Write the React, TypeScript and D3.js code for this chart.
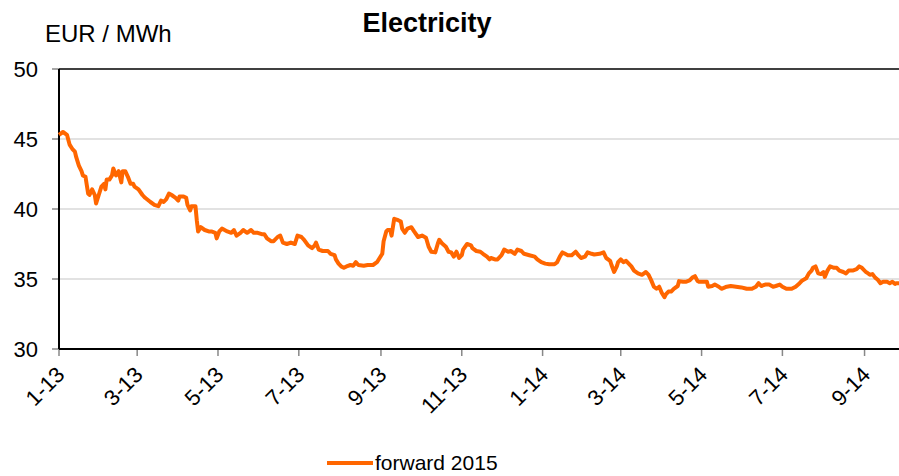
import * as d3 from 'd3';

// days since 2013-01-01 and forward 2015 price (EUR/MWh)
const days = [
  0, 3, 6, 8, 10, 12, 13, 15, 17, 18, 20, 21, 22, 23, 25, 27, 28, 30, 32, 34, 35, 36, 38, 40, 41, 43, 45,
  46, 47, 48, 50, 52, 54, 56, 57, 60, 63, 65, 69, 72, 75, 77, 79, 81, 83, 85, 88, 90, 91, 94, 96, 97, 99,
  100, 103, 104, 105, 107, 110, 113, 115, 118, 119, 121, 123, 127, 130, 132, 134, 137, 139, 142, 145, 147,
  150, 153, 155, 157, 160, 162, 165, 167, 169, 172, 175, 178, 180, 183, 185, 188, 191, 193, 194, 196, 199,
  203, 205, 208, 209, 211, 213, 215, 217, 220, 222, 224, 226, 230, 233, 237, 240, 242, 244, 245, 247, 248,
  250, 251, 252, 253, 256, 258, 259, 261, 263, 266, 268, 271, 274, 277, 279, 281, 284, 286, 287, 289, 292,
  294, 296, 298, 300, 302, 304, 305, 308, 311, 312, 315, 318, 320, 323, 325, 326, 329, 331, 334, 336, 339,
  341, 344, 346, 349, 351, 355, 359, 361, 364, 367, 370, 374, 376, 378, 380, 382, 384, 387, 390, 392, 394,
  397, 399, 402, 404, 408, 411, 413, 416, 417, 419, 421, 422, 424, 426, 428, 430, 432, 434, 437, 440, 443,
  445, 447, 449, 451, 453, 455, 457, 458, 460, 462, 464, 467, 468, 471, 473, 476, 478, 480, 482, 483, 486,
  489, 490, 493, 495, 498, 500, 504, 507, 511, 515, 519, 523, 526, 528, 530, 533, 536, 539, 541, 544, 546,
  549, 553, 556, 559, 561, 564, 566, 568, 569, 571, 573, 575, 577, 578, 580, 582, 585, 587, 589, 592, 594,
  596, 599, 602, 604, 606, 609, 610, 612, 614, 616, 618, 620, 622, 625, 627, 629, 631, 632, 634,
];
const prices = [
  45.3, 45.5, 45.3, 44.6, 44.3, 44.1, 43.7, 43.1, 42.7, 42.4, 42.3, 41.7, 41.1, 41.0, 41.4, 41.0, 40.4,
  41.0, 41.6, 41.8, 41.4, 42.1, 42.1, 42.4, 42.9, 42.4, 42.7, 42.3, 41.9, 42.7, 42.7, 42.3, 41.8, 41.8,
  41.6, 41.4, 41.0, 40.8, 40.5, 40.3, 40.2, 40.6, 40.5, 40.7, 41.1, 41.0, 40.8, 40.6, 40.9, 40.9, 40.8,
  40.3, 39.9, 40.2, 40.2, 39.2, 38.4, 38.7, 38.5, 38.4, 38.4, 38.3, 37.9, 38.4, 38.6, 38.4, 38.3, 38.5,
  38.1, 38.3, 38.5, 38.3, 38.5, 38.3, 38.3, 38.2, 38.2, 37.9, 37.7, 37.7, 38.0, 38.1, 37.6, 37.5, 37.6,
  37.5, 38.1, 38.0, 37.8, 37.4, 37.2, 37.4, 37.6, 37.1, 37.0, 37.0, 36.8, 36.7, 36.4, 36.1, 35.9, 35.8,
  35.9, 36.0, 35.95, 36.2, 36.0, 35.95, 36.0, 36.0, 36.2, 36.5, 36.8, 37.7, 38.4, 38.5, 38.5, 38.1, 38.7,
  39.3, 39.2, 39.1, 38.6, 38.3, 38.6, 38.7, 38.4, 38.0, 38.1, 37.95, 37.3, 36.95, 36.9, 37.55, 37.8,
  37.55, 37.3, 36.95, 36.9, 36.6, 36.95, 36.5, 36.7, 37.1, 37.5, 37.4, 37.2, 37.0, 36.95, 36.8, 36.6,
  36.4, 36.5, 36.4, 36.4, 36.7, 37.1, 36.95, 37.0, 36.8, 37.1, 37.0, 36.8, 36.7, 36.6, 36.4, 36.2, 36.1,
  36.05, 36.05, 36.2, 36.6, 36.9, 36.8, 36.7, 36.7, 36.95, 36.7, 36.5, 36.6, 36.9, 36.8, 36.75, 36.8,
  36.9, 36.5, 36.3, 36.0, 35.5, 35.9, 36.2, 36.4, 36.2, 36.3, 36.1, 35.9, 35.6, 35.4, 35.3, 35.5, 35.3,
  34.9, 34.45, 34.3, 34.45, 34.0, 33.7, 33.9, 34.1, 34.1, 34.3, 34.5, 34.85, 34.8, 34.8, 34.9, 35.1,
  35.2, 34.85, 34.8, 34.8, 34.8, 34.45, 34.5, 34.6, 34.45, 34.3, 34.45, 34.5, 34.45, 34.4, 34.3, 34.3,
  34.45, 34.7, 34.5, 34.6, 34.6, 34.45, 34.5, 34.6, 34.45, 34.3, 34.3, 34.45, 34.7, 34.9, 35.05, 35.4,
  35.6, 35.8, 35.9, 35.4, 35.35, 35.5, 35.15, 35.6, 35.9, 35.8, 35.8, 35.6, 35.5, 35.4, 35.6, 35.6, 35.7,
  35.9, 35.8, 35.5, 35.45, 35.3, 35.35, 35.1, 34.95, 34.7, 34.8, 34.8, 34.7, 34.8, 34.65, 34.7, 34.7,
];
const yTicks = [30, 35, 40, 45, 50];
const xTickLabels = ['1-13', '3-13', '5-13', '7-13', '9-13', '11-13', '1-14', '3-14', '5-14', '7-14', '9-14'];

const W = 899;
const H = 476;
const font = 'Arial, "Liberation Sans", sans-serif';

export default function App() {
  const start = new Date(2013, 0, 1);
  const data = days.map((d, i) => ({ date: d3.timeDay.offset(start, d), v: prices[i] }));

  const left = 59;
  const right = 899;
  const top = 69;
  const bottom = 349;

  const x = d3.scaleTime().domain([start, d3.timeDay.offset(start, 634)]).range([left, right]);
  const y = d3.scaleLinear().domain([30, 50]).range([bottom, top]);

  const tickDates = xTickLabels.map((_, i) => d3.timeMonth.offset(start, i * 2));

  const line = d3
    .line<{ date: Date; v: number }>()
    .x((d) => x(d.date))
    .y((d) => y(d.v));

  return (
    <svg width={W} height={H} style={{ position: 'absolute', left: 0, top: 0, background: '#fff' }}>
      <rect x={0} y={0} width={W} height={H} fill="#fff" />

      {/* gridlines */}
      {yTicks.slice(1, -1).map((t) => (
        <line key={t} x1={left} x2={right} y1={y(t)} y2={y(t)} stroke="#d9d9d9" strokeWidth={1.5} />
      ))}

      {/* y axis ticks + labels */}
      {yTicks.map((t) => (
        <g key={t}>
          <line x1={52} x2={left} y1={y(t)} y2={y(t)} stroke="#888" strokeWidth={1.5} />
          <text x={38} y={y(t)} dy="0.36em" textAnchor="end" fontSize={22} fontFamily={font} fill="#000">
            {t}
          </text>
        </g>
      ))}

      {/* x axis ticks + labels */}
      {tickDates.map((d, i) => (
        <g key={i} transform={`translate(${x(d)}, ${bottom})`}>
          <line y1={0} y2={7} stroke="#888" strokeWidth={1.5} />
          <text
            transform="translate(7, 27) rotate(-45)"
            textAnchor="end"
            fontSize={22}
            fontFamily={font}
            fill="#000"
          >
            {xTickLabels[i]}
          </text>
        </g>
      ))}

      {/* frame */}
      <line x1={left} x2={right} y1={top} y2={top} stroke="#000" strokeWidth={1.5} />
      <line x1={left} x2={right} y1={bottom} y2={bottom} stroke="#000" strokeWidth={2} />
      <line x1={left} x2={left} y1={top} y2={bottom} stroke="#000" strokeWidth={2} />

      {/* series */}
      <path d={line(data) ?? ''} fill="none" stroke="#ff6600" strokeWidth={4} strokeLinejoin="round" />

      {/* titles */}
      <text x={427} y={32} textAnchor="middle" fontSize={27} fontWeight="bold" fontFamily={font} fill="#000">
        Electricity
      </text>
      <text x={45} y={42} fontSize={24} fontFamily={font} fill="#000">
        EUR / MWh
      </text>

      {/* legend */}
      <line x1={327} x2={373} y1={463} y2={463} stroke="#ff6600" strokeWidth={4} />
      <text x={375} y={470} fontSize={21} fontFamily={font} fill="#000">
        forward 2015
      </text>
    </svg>
  );
}
